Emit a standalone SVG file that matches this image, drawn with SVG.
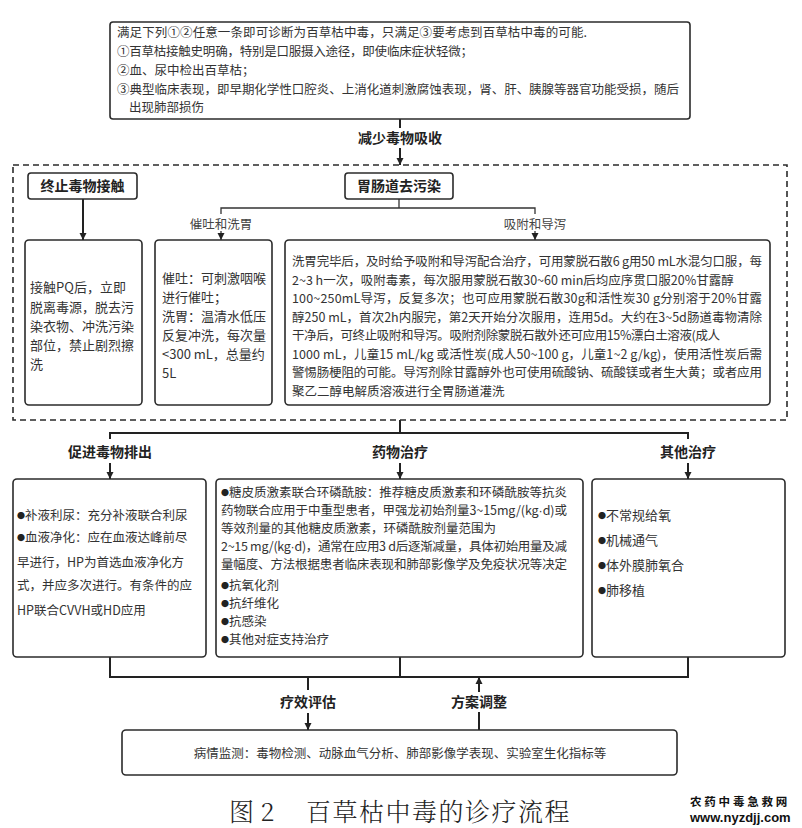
<svg xmlns="http://www.w3.org/2000/svg" width="802" height="828" viewBox="0 0 802 828">
<defs>
<style>
.box{fill:#fff;stroke:#2b2b2b;stroke-width:1.6}
.dash{fill:none;stroke:#2b2b2b;stroke-width:1.6;stroke-dasharray:6 4}
.ln{fill:none;stroke:#222;stroke-width:2}
.ln2{fill:none;stroke:#333;stroke-width:1.3}
.t{font-family:"Noto Sans CJK SC","Liberation Sans",sans-serif;font-size:12.5px;fill:#333}
.t13{font-family:"Noto Sans CJK SC","Liberation Sans",sans-serif;font-size:13px;fill:#333}
.b{font-family:"Noto Sans CJK SC","Liberation Sans",sans-serif;font-size:14px;font-weight:bold;fill:#222;text-anchor:middle}
.s{font-family:"Noto Sans CJK SC","Liberation Sans",sans-serif;font-size:12.5px;fill:#444;text-anchor:middle}
.cap{font-family:"Noto Serif CJK SC","Noto Sans CJK SC","Liberation Serif",serif;font-size:25px;font-weight:300;fill:#222}
.bu{font-size:8px;fill:#222}
.md{font-family:"Liberation Sans",sans-serif}
</style>
<marker id="ah" viewBox="0 0 10 10" refX="10" refY="5" markerWidth="7" markerHeight="8" markerUnits="userSpaceOnUse" orient="auto">
<path d="M0,0 L10,5 L0,10 z" fill="#222"/>
</marker>
</defs>

<g id="connectors">
<path class="ln" d="M400,119 V128"/>
<path class="ln" d="M400,148 V165" marker-end="url(#ah)"/>
<path class="ln" d="M83,199 V240" marker-end="url(#ah)"/>
<path class="ln2" d="M399,199 V208 M221,214 V208 H535 V214"/>
<path class="ln2" d="M221,231 V240" marker-end="url(#ah)"/>
<path class="ln2" d="M535,231 V240" marker-end="url(#ah)"/>
<path class="ln" d="M400,420 V433 M110,439 V433 H688 V439"/>
<path class="ln" d="M110,463 V479" marker-end="url(#ah)"/>
<path class="ln" d="M400,463 V479" marker-end="url(#ah)"/>
<path class="ln" d="M688,463 V479" marker-end="url(#ah)"/>
<path class="ln" d="M110,657 V677 H688 V657 M400,657 V677"/>
<path class="ln" d="M308,677 V690"/>
<path class="ln" d="M308,713 V730" marker-end="url(#ah)"/>
<path class="ln" d="M479,730 V712"/>
<path class="ln" d="M479,692 V677" marker-end="url(#ah)"/>
</g>

<g id="diagnosis">
<rect class="box" x="110" y="22" width="580" height="97" rx="3"/>
<text class="t" x="117" y="37" textLength="470">满足下列①②任意一条即可诊断为百草枯中毒，只满足③要考虑到百草枯中毒的可能.</text>
<text class="t" x="117" y="56" textLength="356">①百草枯接触史明确，特别是口服摄入途径，即使临床症状轻微；</text>
<text class="t" x="117" y="75">②血、尿中检出百草枯；</text>
<text class="t" x="117" y="94" textLength="562">③典型临床表现，即早期化学性口腔炎、上消化道刺激腐蚀表现，肾、肝、胰腺等器官功能受损，随后</text>
<text class="t" x="129" y="112">出现肺部损伤</text>
</g>

<g id="label-reduce">
<text class="b" x="400" y="143">减少毒物吸收</text>
</g>

<g id="reduce-group">
<rect class="dash" x="13" y="165" width="774" height="255"/>
</g>

<g id="stop-contact">
<rect class="box" x="28" y="173" width="109" height="26" rx="3"/>
<text class="b" x="82.5" y="191">终止毒物接触</text>
</g>

<g id="gi-decon">
<rect class="box" x="345" y="173" width="108" height="26" rx="3"/>
<text class="b" x="399" y="191">胃肠道去污染</text>
<text class="s" x="221" y="228.5">催吐和洗胃</text>
<text class="s" x="535" y="228.5">吸附和导泻</text>
</g>

<g id="box-contact">
<rect class="box" x="25" y="240" width="117" height="165" rx="4"/>
<text class="t13" x="30" y="292">接触PQ后，立即</text>
<text class="t13" x="30" y="312">脱离毒源，脱去污</text>
<text class="t13" x="30" y="331">染衣物、冲洗污染</text>
<text class="t13" x="30" y="350">部位，禁止剧烈擦</text>
<text class="t13" x="30" y="369">洗</text>
</g>

<g id="box-emesis">
<rect class="box" x="155" y="240" width="117" height="165" rx="4"/>
<text class="t13" x="162" y="283">催吐：可刺激咽喉</text>
<text class="t13" x="162" y="302">进行催吐；</text>
<text class="t13" x="162" y="321">洗胃：温清水低压</text>
<text class="t13" x="162" y="340">反复冲洗，每次量</text>
<text class="t13" x="162" y="359">&lt;300 mL，总量约</text>
<text class="t13" x="162" y="378">5L</text>
</g>

<g id="box-adsorb">
<rect class="box" x="285" y="240" width="485" height="165" rx="4"/>
<text class="t" x="292" y="266" textLength="470">洗胃完毕后，及时给予吸附和导泻配合治疗，可用蒙脱石散6 g用50 mL水混匀口服，每</text>
<text class="t" x="292" y="284.5">2~3 h一次，吸附毒素，每次服用蒙脱石散30~60 min后均应序贯口服20%甘露醇</text>
<text class="t" x="292" y="303" textLength="470">100~250mL导泻，反复多次；也可应用蒙脱石散30g和活性炭30 g分别溶于20%甘露</text>
<text class="t" x="292" y="321.5" textLength="470">醇250 mL，首次2h内服完，第2天开始分次服用，连用5d。大约在3~5d肠道毒物清除</text>
<text class="t" x="292" y="340" textLength="428">干净后，可终止吸附和导泻。吸附剂除蒙脱石散外还可应用15%漂白土溶液(成人</text>
<text class="t" x="292" y="358.5" textLength="470">1000 mL，儿童15 mL/kg 或活性炭(成人50~100 g，儿童1~2 g/kg)，使用活性炭后需</text>
<text class="t" x="292" y="377" textLength="470">警惕肠梗阻的可能。导泻剂除甘露醇外也可使用硫酸钠、硫酸镁或者生大黄；或者应用</text>
<text class="t" x="292" y="395.5">聚乙二醇电解质溶液进行全胃肠道灌洗</text>
</g>

<g id="label-promote">
<text class="b" x="110" y="457">促进毒物排出</text>
</g>
<g id="label-drug">
<text class="b" x="400" y="457">药物治疗</text>
</g>
<g id="label-other">
<text class="b" x="688" y="457">其他治疗</text>
</g>

<g id="box-promote">
<rect class="box" x="13" y="479" width="193" height="178" rx="4"/>
<text class="t" x="17" y="520"><tspan class="bu" dy="-1.5">●</tspan><tspan dy="1.5">补液利尿：充分补液联合利尿</tspan></text>
<text class="t" x="17" y="542"><tspan class="bu" dy="-1.5">●</tspan><tspan dy="1.5">血液净化：应在血液达峰前尽</tspan></text>
<text class="t" x="17" y="567">早进行，HP为首选血液净化方</text>
<text class="t" x="17" y="590">式，并应多次进行。有条件的应</text>
<text class="t" x="17" y="615">HP联合CVVH或HD应用</text>
</g>

<g id="box-drug">
<rect class="box" x="216" y="479" width="367" height="178" rx="4"/>
<text class="t" x="221" y="497" textLength="346"><tspan class="bu" dy="-1.5">●</tspan><tspan dy="1.5">糖皮质激素联合环磷酰胺：推荐糖皮质激素和环磷酰胺等抗炎</tspan></text>
<text class="t" x="221" y="515" textLength="346">药物联合应用于中重型患者，甲强龙初始剂量3~15mg/(kg<tspan class="md">·</tspan>d)或</text>
<text class="t" x="221" y="533">等效剂量的其他糖皮质激素，环磷酰胺剂量范围为</text>
<text class="t" x="221" y="551" textLength="346">2~15 mg/(kg<tspan class="md">·</tspan>d)，通常在应用3 d后逐渐减量，具体初始用量及减</text>
<text class="t" x="221" y="569" textLength="346">量幅度、方法根据患者临床表现和肺部影像学及免疫状况等决定</text>
<text class="t" x="221" y="590"><tspan class="bu" dy="-1.5">●</tspan><tspan dy="1.5">抗氧化剂</tspan></text>
<text class="t" x="221" y="608"><tspan class="bu" dy="-1.5">●</tspan><tspan dy="1.5">抗纤维化</tspan></text>
<text class="t" x="221" y="626"><tspan class="bu" dy="-1.5">●</tspan><tspan dy="1.5">抗感染</tspan></text>
<text class="t" x="221" y="644"><tspan class="bu" dy="-1.5">●</tspan><tspan dy="1.5">其他对症支持治疗</tspan></text>
</g>

<g id="box-other">
<rect class="box" x="592" y="479" width="193" height="178" rx="4"/>
<text class="t13" x="598" y="520"><tspan class="bu" dy="-1.5">●</tspan><tspan dy="1.5">不常规给氧</tspan></text>
<text class="t13" x="598" y="545"><tspan class="bu" dy="-1.5">●</tspan><tspan dy="1.5">机械通气</tspan></text>
<text class="t13" x="598" y="570"><tspan class="bu" dy="-1.5">●</tspan><tspan dy="1.5">体外膜肺氧合</tspan></text>
<text class="t13" x="598" y="595"><tspan class="bu" dy="-1.5">●</tspan><tspan dy="1.5">肺移植</tspan></text>
</g>

<g id="label-eval">
<text class="b" x="308" y="707">疗效评估</text>
</g>
<g id="label-adjust">
<text class="b" x="479" y="707">方案调整</text>
</g>

<g id="box-monitor">
<rect class="box" x="122" y="730" width="555" height="45" rx="4"/>
<text class="t" x="400" y="758" text-anchor="middle">病情监测：毒物检测、动脉血气分析、肺部影像学表现、实验室生化指标等</text>
</g>

<g id="caption">
<text class="cap" x="229" y="821">图 2</text>
<text class="cap" x="306" y="821" letter-spacing="1.5">百草枯中毒的诊疗流程</text>
</g>

<g id="watermark">
<text x="690" y="806" font-family="Noto Sans CJK SC, sans-serif" font-size="11.5" font-weight="bold" letter-spacing="2.8" fill="#111">农药中毒急救网</text>
<text x="690" y="822" font-family="Liberation Sans, Arial, sans-serif" font-size="13" font-weight="bold" fill="#111">www.nyzdjj.com</text>
</g>
</svg>
